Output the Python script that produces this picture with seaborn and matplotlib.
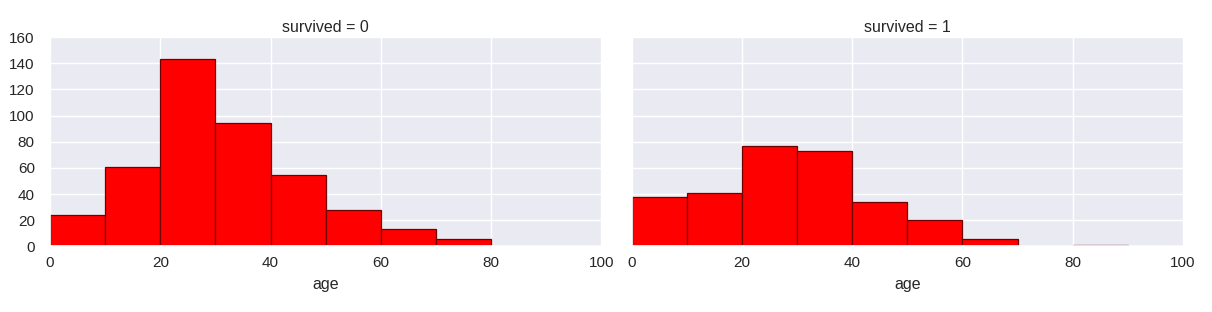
import numpy as np
import pandas as pd
import seaborn as sns
import matplotlib
matplotlib.use("Agg")
import matplotlib.pyplot as plt

# Data
bin_edges = [0, 10, 20, 30, 40, 50, 60, 70, 80, 90, 100]
counts_died = [24, 61, 143, 94, 55, 28, 13, 6, 0, 0]
counts_survived = [38, 41, 77, 73, 34, 20, 6, 0, 1, 0]
survived_labels = [0, 1]

sns.set_theme(style="darkgrid")
plt.rcParams['font.family'] = ['Liberation Sans', 'DejaVu Sans']
plt.rcParams['xtick.labelsize'] = 11
plt.rcParams['ytick.labelsize'] = 11
plt.rcParams['axes.labelsize'] = 11.5
plt.rcParams['axes.titlesize'] = 11.5
plt.rcParams['text.color'] = '#262626'
plt.rcParams['xtick.color'] = '#262626'
plt.rcParams['ytick.color'] = '#262626'

mids = [(a + b) / 2 for a, b in zip(bin_edges[:-1], bin_edges[1:])]
rows = []
for s, cnts in zip(survived_labels, [counts_died, counts_survived]):
    for m, c in zip(mids, cnts):
        rows.append({"survived": s, "age": m, "count": c})
df = pd.DataFrame(rows)

g = sns.FacetGrid(df, col="survived", height=3.12, aspect=1.0, sharey=True)
g.map_dataframe(sns.histplot, x="age", weights="count", bins=bin_edges,
                color="red", edgecolor="#6e0000", linewidth=0.9, alpha=1.0)
g.set(xlim=(0, 100), ylim=(0, 160), xticks=[0, 20, 40, 60, 80, 100],
      yticks=[0, 20, 40, 60, 80, 100, 120, 140, 160])
g.set_axis_labels("age", "")
g.set_titles("survived = {col_name}")
g.figure.set_size_inches(12.12, 3.12)
for ax in g.axes.flat:
    ax.tick_params(axis='x', pad=1)
    ax.tick_params(axis='y', pad=5)
    ax.xaxis.labelpad = 5
    ax.title.set_y(1.0)
    ax.set_title(ax.get_title(), pad=4)
g.figure.subplots_adjust(left=0.0413, right=0.976, bottom=0.210, top=0.881, wspace=0.055)
g.figure.savefig("out.png", dpi=100)
